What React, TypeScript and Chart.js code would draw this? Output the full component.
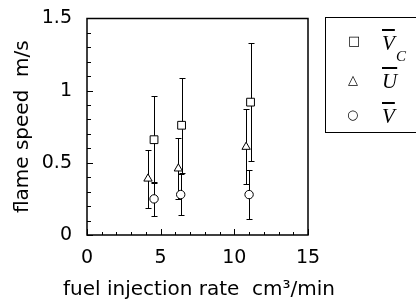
import { useEffect, useRef } from "react";
import { Chart, registerables } from "chart.js";
Chart.register(...registerables);

// Data (fuel injection rate cm^3/min vs flame speed m/s)
const vcX = [4.55, 6.42, 11.1];
const vcY = [0.66, 0.76, 0.92];
const vcErr = [0.3, 0.33, 0.41];

const uX = [4.14, 6.2, 10.8];
const uY = [0.39, 0.46, 0.61];
const uErr = [0.2, 0.21, 0.26];

const vX = [4.55, 6.36, 11.0];
const vY = [0.25, 0.28, 0.28];
const vErr = [0.12, 0.14, 0.17];

const xTickValues = [0, 5, 10, 15];
const yTickValues = [0, 0.5, 1, 1.5];

const FONT = "'DejaVu Sans', sans-serif";

const toPoints = (xs: number[], ys: number[]) => xs.map((x, i) => ({ x, y: ys[i] }));

function drawFrame(chart: any) {
  const ctx = chart.ctx;
  const area = chart.chartArea;
  const x = chart.scales.x, y = chart.scales.y;
  ctx.save();
  ctx.strokeStyle = "#000";
  ctx.lineWidth = 1.5;
  ctx.beginPath();
  ctx.rect(area.left, area.top, area.right - area.left, area.bottom - area.top);
  ctx.stroke();
  ctx.lineWidth = 1;
  ctx.beginPath();
  for (let i = 0; i <= 15; i++) {
    const py = Math.round(y.getPixelForValue(i / 10)) + 0.5;
    const len = i % 5 === 0 ? 6 : 4;
    ctx.moveTo(area.left, py);
    ctx.lineTo(area.left + len, py);
  }
  for (let i = 0; i <= 15; i++) {
    const px = Math.round(x.getPixelForValue(i)) + 0.5;
    const len = i % 5 === 0 ? 6 : 3;
    ctx.moveTo(px, area.bottom);
    ctx.lineTo(px, area.bottom - len);
  }
  ctx.stroke();
  ctx.restore();
}

const decorations = {
  id: "decorations",
  beforeDatasetsDraw(chart: any) {
    drawFrame(chart);
    const ctx = chart.ctx;
    const x = chart.scales.x, y = chart.scales.y;
    ctx.save();
    ctx.strokeStyle = "#000";
    ctx.lineWidth = 1;
    chart.data.datasets.forEach((ds: any) => {
      ds.data.forEach((p: any, i: number) => {
        const e = ds.errors[i];
        const px = Math.round(x.getPixelForValue(p.x)) + 0.5;
        const top = Math.round(y.getPixelForValue(p.y + e)) + 0.5;
        const bot = Math.round(y.getPixelForValue(p.y - e)) + 0.5;
        ctx.beginPath();
        ctx.moveTo(px, top);
        ctx.lineTo(px, bot);
        ctx.moveTo(px - 3, top);
        ctx.lineTo(px + 3, top);
        ctx.moveTo(px - 3, bot);
        ctx.lineTo(px + 3, bot);
        ctx.stroke();
      });
    });
    ctx.restore();
  },
};

export default function App() {
  const ref = useRef<HTMLCanvasElement | null>(null);
  useEffect(() => {
    if (!ref.current) return;
    const chart = new Chart(ref.current, {
      type: "scatter",
      data: {
        datasets: [
          {
            label: "Vc",
            data: toPoints(vcX, vcY),
            errors: vcErr,
            pointStyle: "rect",
            pointRadius: 5.5,
            borderColor: "#000",
            backgroundColor: "#fff",
            borderWidth: 1,
          } as any,
          {
            label: "U",
            data: toPoints(uX, uY),
            errors: uErr,
            pointStyle: "triangle",
            pointRadius: 4.8,
            borderColor: "#000",
            backgroundColor: "#fff",
            borderWidth: 1,
          } as any,
          {
            label: "V",
            data: toPoints(vX, vY),
            errors: vErr,
            pointStyle: "circle",
            pointRadius: 4.2,
            borderColor: "#000",
            backgroundColor: "#fff",
            borderWidth: 1,
          } as any,
        ],
      },
      options: {
        animation: false,
        responsive: false,
        layout: { padding: { left: 0, right: 108, top: 17, bottom: 0 } },
        plugins: { legend: { display: false }, tooltip: { enabled: false } },
        scales: {
          x: {
            type: "linear",
            min: 0,
            max: 15,
            afterFit: (s: any) => { s.height = 64; },
            afterBuildTicks: (s: any) => { s.ticks = xTickValues.map((v) => ({ value: v })); },
            grid: { display: false },
            border: { display: false },
            ticks: { color: "#000", font: { family: FONT, size: 19 }, padding: 4, autoSkip: false, maxRotation: 0, callback: (v: any) => String(v) },
            title: { display: false },
          },
          y: {
            type: "linear",
            min: 0,
            max: 1.5,
            afterFit: (s: any) => { s.width = 87; },
            afterBuildTicks: (s: any) => { s.ticks = yTickValues.map((v) => ({ value: v })); },
            grid: { display: false },
            border: { display: false },
            ticks: { color: "#000", font: { family: FONT, size: 19 }, padding: 7, callback: (v: any) => String(v) },
            title: {
              display: true,
              text: "flame speed  m/s",
              color: "#000",
              font: { family: FONT, size: 20, lineHeight: 1.2 },
              padding: { top: 11, bottom: 0 },
            },
          },
        },
      } as any,
      plugins: [decorations],
    });
    return () => chart.destroy();
  }, []);

  const serif = "'Liberation Serif', 'DejaVu Serif', serif";
  const sym: any = { position: "absolute", fontFamily: "'DejaVu Sans', sans-serif", fontSize: 13, lineHeight: "13px" };
  const lab: any = { position: "absolute", fontFamily: serif, fontStyle: "italic", fontSize: 21, lineHeight: "21px", textDecoration: "overline" };

  return (
    <div style={{ position: "fixed", left: 0, top: 0, width: 416, height: 299, overflow: "hidden", background: "#fff" }}>
      <canvas ref={ref} width={416} height={299} style={{ position: "absolute", left: 0, top: 0 }} />
      <div
        style={{
          position: "absolute",
          left: 199,
          top: 276,
          transform: "translateX(-50%)",
          whiteSpace: "pre",
          fontFamily: FONT,
          fontSize: 20,
          lineHeight: "24px",
          color: "#000",
        }}
      >
        {"fuel injection rate  cm³/min"}
      </div>
      <div style={{ position: "absolute", left: 325, top: 17, width: 110, height: 116, border: "1.5px solid #000", boxSizing: "border-box" }} />
      <span style={{ ...sym, left: 348, top: 34 }}>□</span>
      <span style={{ ...sym, left: 348, top: 73 }}>△</span>
      <span style={{ ...sym, left: 347, top: 108 }}>○</span>
      <span style={{ ...lab, left: 382, top: 33 }}>V</span>
      <span style={{ position: "absolute", left: 396, top: 49, fontFamily: serif, fontStyle: "italic", fontSize: 15, lineHeight: "15px" }}>C</span>
      <span style={{ ...lab, left: 382, top: 71 }}>U</span>
      <span style={{ ...lab, left: 382, top: 106 }}>V</span>
    </div>
  );
}
